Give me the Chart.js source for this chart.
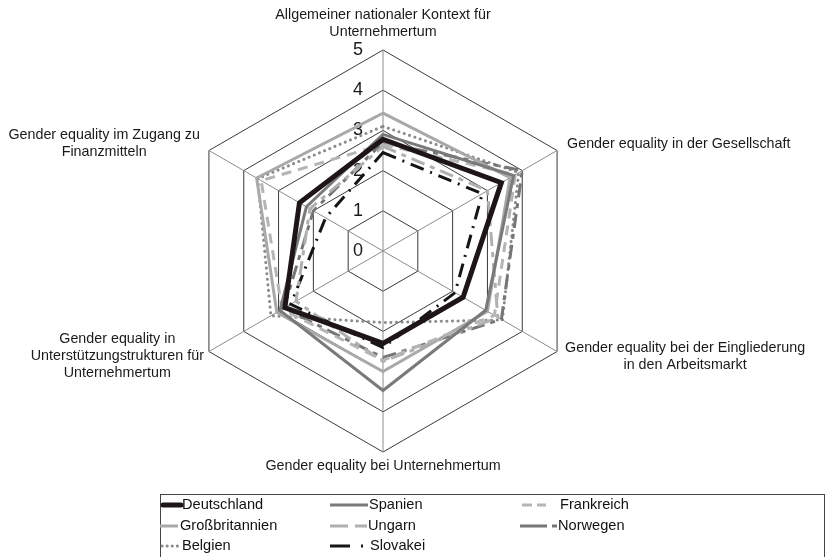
<!DOCTYPE html>
<html><head><meta charset="utf-8">
<script src="https://cdn.jsdelivr.net/npm/chart.js@4/dist/chart.umd.min.js"></script>
<style>html,body{margin:0;padding:0;background:#fff;}canvas{display:block;}</style>
</head><body>
<canvas id="c" width="827" height="557"></canvas>
<script>
// ---- data ----
const categories = [
  ["Allgemeiner nationaler Kontext für", "Unternehmertum"],
  ["Gender equality in der Gesellschaft"],
  ["Gender equality bei der Eingliederung", "in den Arbeitsmarkt"],
  ["Gender equality bei Unternehmertum"],
  ["Gender equality in", "Unterstützungstrukturen für", "Unternehmertum"],
  ["Gender equality im Zugang zu", "Finanzmitteln"]
];
const tickLabels = ["0", "1", "2", "3", "4", "5"];
const seriesNames = ["Deutschland", "Spanien", "Frankreich", "Großbritannien", "Ungarn", "Norwegen", "Belgien", "Slovakei"];
const deutschland    = [2.78, 3.40, 2.30, 2.30, 2.82, 2.40];
const spanien        = [2.90, 3.75, 2.95, 3.47, 2.96, 2.20];
const frankreich     = [2.65, 3.80, 3.20, 2.72, 2.90, 3.50];
const grossbritannien= [3.43, 3.65, 3.00, 3.00, 3.05, 3.63];
const ungarn         = [2.60, 3.00, 3.30, 2.75, 2.50, 2.10];
const norwegen       = [2.70, 4.00, 3.40, 2.65, 2.85, 2.00];
const belgien        = [3.10, 3.90, 3.43, 1.78, 3.22, 3.60];
const slovakei       = [2.45, 2.85, 2.07, 2.40, 2.65, 1.65];
const seriesValues = [deutschland, spanien, frankreich, grossbritannien, ungarn, norwegen, belgien, slovakei];

// ---- styles ----
const FONT = "'Liberation Sans', Arial, sans-serif";
const styles = [
  {color: "#1e1616", width: 5,   dash: [],            cap: "round"},
  {color: "#7a7a7a", width: 3,   dash: [],            cap: "butt"},
  {color: "#b5b5b5", width: 3,   dash: [10, 7],       cap: "butt"},
  {color: "#a9a9a9", width: 3,   dash: [],            cap: "butt"},
  {color: "#b0b0b0", width: 3,   dash: [14, 6, 5, 6], cap: "butt"},
  {color: "#767676", width: 3,   dash: [14, 6, 5, 6], cap: "butt"},
  {color: "#8a8a8a", width: 3,   dash: [0.1, 5.5],    cap: "round"},
  {color: "#151515", width: 3,   dash: [14, 7, 2, 7], cap: "butt"}
];

const datasets = seriesNames.map((name, i) => ({
  label: name,
  data: seriesValues[i],
  borderColor: styles[i].color,
  borderWidth: styles[i].width,
  borderDash: styles[i].dash,
  borderCapStyle: styles[i].cap,
  borderJoinStyle: "miter",
  backgroundColor: "transparent",
  fill: false,
  pointRadius: 0,
  pointHoverRadius: 0,
  tension: 0
}));

// point label placement (per axis index)
const labelPlace = [
  {mode: "top",    gap: 18},
  {mode: "right",  gap: 10, dy: -6.5},
  {mode: "right",  gap: 8,  dy: 5},
  {mode: "bottom", gap: 14},
  {mode: "left",   gap: 5,  dy: 4.5},
  {mode: "left",   gap: 9,  dy: -7}
];

const customDraw = {
  id: "customDraw",
  beforeDatasetsDraw(chart) {
    const s = chart.scales.r, ctx = chart.ctx;
    ctx.save();
    ctx.font = "18px " + FONT;
    ctx.fillStyle = "#1a1a1a";
    ctx.textAlign = "center";
    ctx.textBaseline = "middle";
    tickLabels.forEach((t) => {
      const d = s.getDistanceFromCenterForValue(Number(t));
      ctx.fillText(t, s.xCenter - 25, s.yCenter - d + 0);
    });
    ctx.restore();
  },
  afterDraw(chart) {
    const s = chart.scales.r, ctx = chart.ctx;
    ctx.save();
    // point labels
    ctx.font = "14.3px " + FONT;
    ctx.fillStyle = "#1a1a1a";
    ctx.textAlign = "center";
    ctx.textBaseline = "middle";
    const lh = 17;
    chart.data.labels.forEach((lines, i) => {
      const p = s.getPointPosition(i, s.drawingArea);
      const pl = labelPlace[i];
      const maxW = Math.max(...lines.map(l => ctx.measureText(l).width));
      const n = lines.length;
      let cx, firstY;
      if (pl.mode === "top") { cx = p.x; firstY = p.y - pl.gap - (n - 1) * lh; }
      else if (pl.mode === "bottom") { cx = p.x; firstY = p.y + pl.gap; }
      else if (pl.mode === "right") { cx = p.x + pl.gap + maxW / 2; firstY = p.y + pl.dy - (n - 1) * lh / 2; }
      else { cx = p.x - pl.gap - maxW / 2; firstY = p.y + pl.dy - (n - 1) * lh / 2; }
      lines.forEach((l, k) => ctx.fillText(l, cx, firstY + k * lh));
    });

    // legend box
    ctx.strokeStyle = "#444";
    ctx.lineWidth = 1;
    ctx.setLineDash([]);
    ctx.strokeRect(160.5, 494.5, 664, 80);

    ctx.font = "14.6px " + FONT;
    ctx.textAlign = "left";
    ctx.fillStyle = "#111";
    const rows = [505, 526, 546];
    const legendItems = [
      {i: 0, x0: 163, x1: 181, tx: 182, r: 0},
      {i: 1, x0: 330, x1: 368, tx: 369, r: 0},
      {i: 2, x0: 522, x1: 546, tx: 560, r: 0},
      {i: 3, x0: 160, x1: 178, tx: 180, r: 1},
      {i: 4, x0: 330, x1: 367, tx: 368, r: 1},
      {i: 5, x0: 520, x1: 557, tx: 558, r: 1},
      {i: 6, x0: 162, x1: 178, tx: 182, r: 2},
      {i: 7, x0: 330, x1: 364, tx: 370, r: 2}
    ];
    const legendDash = {
      0: [], 1: [], 2: [10, 5], 3: [], 4: [18, 7, 12, 0], 5: [27, 5, 5, 0], 6: [0.1, 5], 7: [20, 11, 2, 40]
    };
    legendItems.forEach(it => {
      const st = styles[it.i];
      const y = rows[it.r];
      ctx.strokeStyle = st.color;
      ctx.lineWidth = st.width;
      ctx.lineCap = st.cap;
      ctx.setLineDash(legendDash[it.i]);
      ctx.beginPath();
      ctx.moveTo(it.x0, y);
      ctx.lineTo(it.x1, y);
      ctx.stroke();
      ctx.setLineDash([]);
      ctx.fillText(chart.data.datasets[it.i].label, it.tx, y);
    });
    ctx.restore();
  }
};

new Chart(document.getElementById("c"), {
  type: "radar",
  data: { labels: categories, datasets: datasets },
  options: {
    responsive: false,
    animation: false,
    events: [],
    layout: { padding: { left: 182, right: 243, top: 50, bottom: 105 } },
    plugins: { legend: { display: false }, tooltip: { enabled: false } },
    scales: {
      r: {
        min: 0, max: 5,
        ticks: { display: false, stepSize: 1 },
        pointLabels: { display: false },
        grid: { color: "#3a3a3a", lineWidth: 1, circular: false },
        angleLines: { color: "#8c8c8c", lineWidth: 1 }
      }
    }
  },
  plugins: [customDraw]
});
</script>
</body></html>
